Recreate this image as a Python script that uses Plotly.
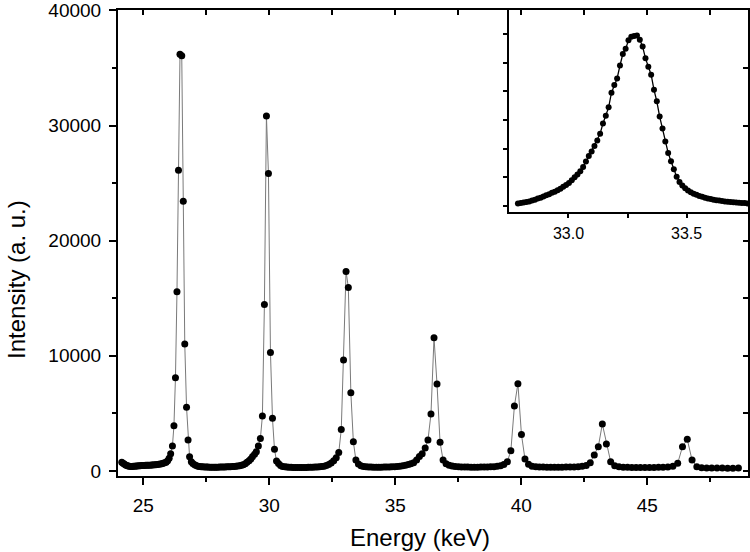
import plotly.graph_objects as go

# ---------------- main spectrum ----------------
energy_a = [24.15, 24.20, 24.25, 24.30, 24.35, 24.40, 24.45, 24.51, 24.56, 24.61, 24.67, 24.72, 24.77, 24.83, 24.88, 24.94, 24.99,
            25.05, 25.10, 25.16, 25.21, 25.27, 25.33, 25.38, 25.44, 25.50, 25.56, 25.62, 25.68, 25.74, 25.79, 25.85, 25.91, 25.97,
            26.03, 26.09, 26.16, 26.22, 26.28, 26.34, 26.40, 26.46, 26.53, 26.59, 26.65, 26.72, 26.78, 26.84, 26.91]
counts_a = [760, 680, 600, 530, 480, 440, 420, 400, 400, 410, 420, 430, 440, 450, 460, 470, 480,
            480, 490, 490, 500, 510, 520, 530, 540, 550, 570, 590, 610, 640, 670, 710, 770, 880,
            1100, 1500, 2170, 3930, 8100, 15560, 26120, 36180, 36050, 23430, 11020, 5530, 2690, 1240, 810]

energy_b = [26.97, 27.04, 27.10, 27.17, 27.23, 27.30, 27.36, 27.43, 27.50, 27.56,
            27.63, 27.70, 27.77, 27.84, 27.90, 27.97, 28.04, 28.11, 28.18, 28.25,
            28.32, 28.39, 28.46, 28.54, 28.61, 28.68, 28.75, 28.83, 28.90, 28.97,
            29.05, 29.12, 29.20, 29.27, 29.34, 29.42, 29.49, 29.57, 29.65, 29.73,
            29.81, 29.89, 29.97, 30.05, 30.13, 30.21, 30.29]
counts_b = [650, 540, 470, 420, 390, 370, 360, 350, 340, 340,
            330, 330, 320, 320, 330, 330, 340, 340, 350, 350,
            360, 370, 380, 390, 400, 420, 440, 460, 490, 540,
            640, 760, 900, 1050, 1250, 1450, 1680, 2170, 2830, 4770,
            14460, 30830, 25830, 10300, 4570, 1880, 870]

energy_c = [30.37, 30.45, 30.53, 30.62, 30.70, 30.78, 30.87, 30.95, 31.04, 31.12,
            31.21, 31.29, 31.38, 31.47, 31.55, 31.64, 31.73, 31.82, 31.91, 32.00,
            32.09, 32.18, 32.27, 32.36, 32.46, 32.56, 32.66, 32.76, 32.86, 32.95,
            33.05, 33.14, 33.24, 33.34, 33.44]
counts_c = [650, 480, 400, 360, 340, 330, 320, 310, 310, 300,
            300, 300, 310, 310, 320, 320, 330, 340, 350, 370,
            390, 420, 470, 560, 700, 900, 1150, 1600, 3610, 9630,
            17330, 15940, 6800, 2540, 950]

energy_d = [33.54, 33.64, 33.74, 33.84, 33.94, 34.04, 34.14, 34.25, 34.35, 34.45,
            34.56, 34.66, 34.77, 34.87, 34.98, 35.08, 35.19, 35.30, 35.41, 35.52,
            35.62, 35.73, 35.85, 35.96, 36.07, 36.19, 36.30, 36.42, 36.54, 36.66,
            36.78, 36.90, 37.02]
counts_d = [600, 460, 400, 370, 350, 340, 330, 330, 330, 330,
            340, 340, 350, 360, 370, 390, 420, 460, 510, 570,
            640, 720, 950, 1250, 1500, 2000, 2690, 4950, 11570, 7550,
            2490, 950, 640]

energy_e = [37.14, 37.26, 37.38, 37.51, 37.63, 37.76, 37.88, 38.01, 38.14, 38.27,
            38.40, 38.53, 38.66, 38.79, 38.92, 39.05, 39.18, 39.31, 39.45, 39.59,
            39.73, 39.87, 40.01, 40.15, 40.29]
counts_e = [500, 430, 390, 370, 350, 340, 340, 330, 330, 330,
            340, 340, 350, 360, 380, 410, 460, 560, 810, 1760,
            5640, 7580, 3180, 1040, 580]

energy_f = [40.43, 40.58, 40.72, 40.87, 41.02, 41.17, 41.32, 41.47, 41.62, 41.78,
            41.94, 42.10, 42.26, 42.42, 42.58, 42.74, 42.90, 43.06, 43.22, 43.38,
            43.55, 43.71]
counts_f = [420, 370, 350, 340, 330, 330, 330, 330, 330, 340,
            340, 350, 370, 410, 480, 720, 1390, 2110, 4080, 2340,
            810, 450]

energy_g = [43.88, 44.05, 44.22, 44.39, 44.56, 44.73, 44.91, 45.09, 45.27, 45.45,
            45.63, 45.82, 46.02, 46.21, 46.40, 46.59, 46.78, 46.97]
counts_g = [360, 330, 320, 310, 310, 310, 310, 310, 310, 320,
            330, 350, 420, 670, 2110, 2750, 950, 370]

energy_h = [47.16, 47.36, 47.56, 47.77, 47.98, 48.19, 48.40, 48.62]
counts_h = [290, 270, 260, 250, 250, 240, 240, 250]

# ---------------- inset (single peak, arbitrary units) ----------------
inset_energy = [32.786, 32.798, 32.810, 32.822, 32.834, 32.846, 32.858, 32.870, 32.882, 32.894,
                32.906, 32.918, 32.930, 32.942, 32.954, 32.966, 32.978, 32.990, 33.002, 33.014,
                33.026, 33.038, 33.050, 33.062, 33.074, 33.086, 33.098, 33.110, 33.122, 33.134,
                33.146, 33.158, 33.170, 33.182, 33.194, 33.206, 33.218, 33.230, 33.242, 33.254,
                33.266, 33.278, 33.290, 33.302, 33.314, 33.326, 33.338, 33.350, 33.362, 33.374,
                33.386, 33.398, 33.410, 33.422, 33.434, 33.446, 33.458, 33.470, 33.482, 33.494,
                33.506, 33.518, 33.530, 33.542, 33.554, 33.566, 33.578, 33.590, 33.602, 33.614,
                33.626, 33.638, 33.650, 33.662, 33.674, 33.686, 33.698, 33.710, 33.722, 33.734,
                33.746, 33.758]
inset_counts = [0.09, 0.10, 0.12, 0.14, 0.16, 0.19, 0.22, 0.26, 0.29, 0.33,
                0.37, 0.41, 0.46, 0.50, 0.55, 0.60, 0.67, 0.73, 0.80, 0.90,
                1.00, 1.10, 1.21, 1.36, 1.55, 1.74, 1.90, 2.09, 2.28, 2.52,
                2.88, 3.15, 3.44, 3.95, 4.22, 4.45, 4.90, 5.30, 5.48, 5.78,
                5.90, 5.93, 5.95, 5.80, 5.56, 5.15, 4.86, 4.58, 4.05, 3.65,
                3.12, 2.70, 2.25, 1.85, 1.56, 1.28, 1.02, 0.84, 0.71, 0.62,
                0.54, 0.48, 0.43, 0.39, 0.35, 0.32, 0.29, 0.26, 0.24, 0.22,
                0.20, 0.19, 0.17, 0.16, 0.15, 0.14, 0.13, 0.12, 0.11, 0.10,
                0.10, 0.09]

main_x_ticks = [25, 30, 35, 40, 45]
main_x_labels = ["25", "30", "35", "40", "45"]
main_y_ticks = [0, 10000, 20000, 30000, 40000]
main_y_labels = ["0", "10000", "20000", "30000", "40000"]
inset_x_ticks = [33.0, 33.25, 33.5]
inset_x_labels = ["33.0", "", "33.5"]
inset_y_ticks = [0, 1, 2, 3, 4, 5, 6]

x_title = "Energy (keV)"
y_title = "Intensity (a. u.)"

energy = energy_a + energy_b + energy_c + energy_d + energy_e + energy_f + energy_g + energy_h
counts = counts_a + counts_b + counts_c + counts_d + counts_e + counts_f + counts_g + counts_h
n = min(len(energy), len(counts))
energy, counts = energy[:n], counts[:n]
m = min(len(inset_energy), len(inset_counts))

FONT = "Liberation Sans, Arial, Helvetica, sans-serif"
X_RANGE = [24, 49]
Y_RANGE = [-434, 40030]

fig = go.Figure()
fig.add_trace(go.Scatter(
    x=energy, y=counts, mode="lines+markers",
    line=dict(color="#7a7a7a", width=1),
    marker=dict(color="black", size=7),
    xaxis="x", yaxis="y", showlegend=False, hoverinfo="skip"))
# empty trace that binds the mirrored top/right frame axes
fig.add_trace(go.Scatter(x=[None], y=[None], mode="markers", xaxis="x3", yaxis="y2",
                         showlegend=False, hoverinfo="skip"))
fig.add_trace(go.Scatter(
    x=inset_energy[:m], y=inset_counts[:m], mode="lines+markers",
    line=dict(color="black", width=1.3),
    marker=dict(color="black", size=6),
    xaxis="x2", yaxis="y3", showlegend=False, hoverinfo="skip"))

fig.update_layout(
    width=750, height=552,
    margin=dict(l=118, r=2, t=10, b=76),
    paper_bgcolor="white", plot_bgcolor="rgba(0,0,0,0)",
    font=dict(family=FONT, color="black"),
    showlegend=False,
    xaxis=dict(
        domain=[0, 1], range=X_RANGE, anchor="y", automargin=False,
        showline=True, linewidth=2, linecolor="black",
        ticks="outside", ticklen=7, tickwidth=1.5, tickcolor="black",
        tickvals=main_x_ticks, ticktext=main_x_labels, tickfont=dict(size=19), ticklabelstandoff=4,
        minor=dict(ticks="outside", ticklen=4, tickwidth=1.5, tickcolor="black", dtick=2.5, tick0=25),
        showgrid=False, zeroline=False),
    xaxis3=dict(
        overlaying="x", side="top", anchor="y2", range=X_RANGE, automargin=False,
        showline=True, linewidth=2, linecolor="black",
        ticks="inside", ticklen=5, tickwidth=1.5, tickcolor="black",
        tickmode="linear", dtick=2.5, tick0=25, showticklabels=False,
        showgrid=False, zeroline=False),
    yaxis=dict(
        domain=[0, 1], range=Y_RANGE, anchor="x", automargin=False,
        showline=True, linewidth=2, linecolor="black",
        ticks="outside", ticklen=7, tickwidth=1.5, tickcolor="black",
        tickvals=main_y_ticks, ticktext=main_y_labels, tickfont=dict(size=19), ticklabelstandoff=4,
        ticklabeloverflow="allow",
        minor=dict(ticks="outside", ticklen=4, tickwidth=1.5, tickcolor="black", dtick=5000, tick0=0),
        showgrid=False, zeroline=False),
    yaxis2=dict(
        overlaying="y", side="right", anchor="x3", range=Y_RANGE, automargin=False,
        showline=True, linewidth=2, linecolor="black",
        ticks="inside", ticklen=5, tickwidth=1.5, tickcolor="black",
        tickmode="linear", dtick=5000, tick0=0, showticklabels=False,
        showgrid=False, zeroline=False),
    xaxis2=dict(
        domain=[0.6213, 1], range=[32.75, 33.76], anchor="y3", automargin=False,
        showline=True, linewidth=2, linecolor="black",
        ticks="outside", ticklen=4, tickwidth=1.5, tickcolor="black",
        tickvals=inset_x_ticks, ticktext=inset_x_labels,
        tickfont=dict(size=16), ticklabelstandoff=2,
        showgrid=False, zeroline=False),
    yaxis3=dict(
        domain=[0.5672, 1], range=[-0.199, 6.836], anchor="x2", automargin=False,
        showline=True, linewidth=2, linecolor="black",
        ticks="outside", ticklen=4, tickwidth=1.5, tickcolor="black",
        tickvals=inset_y_ticks, showticklabels=False,
        showgrid=False, zeroline=False),
    annotations=[
        dict(text=x_title, xref="paper", yref="paper", x=(419.5 - 118) / 630, y=(476 - 537) / 466,
             xanchor="center", yanchor="middle", showarrow=False, font=dict(size=24, family=FONT)),
        dict(text=y_title, xref="paper", yref="paper", x=(16 - 118) / 630, y=(476 - 280) / 466,
             xanchor="center", yanchor="middle", textangle=-90, showarrow=False, font=dict(size=24, family=FONT)),
    ],
)

fig.write_html("out.html",
               config={"displayModeBar": False},
               post_script="document.body.style.margin='0';document.body.style.padding='0';")
